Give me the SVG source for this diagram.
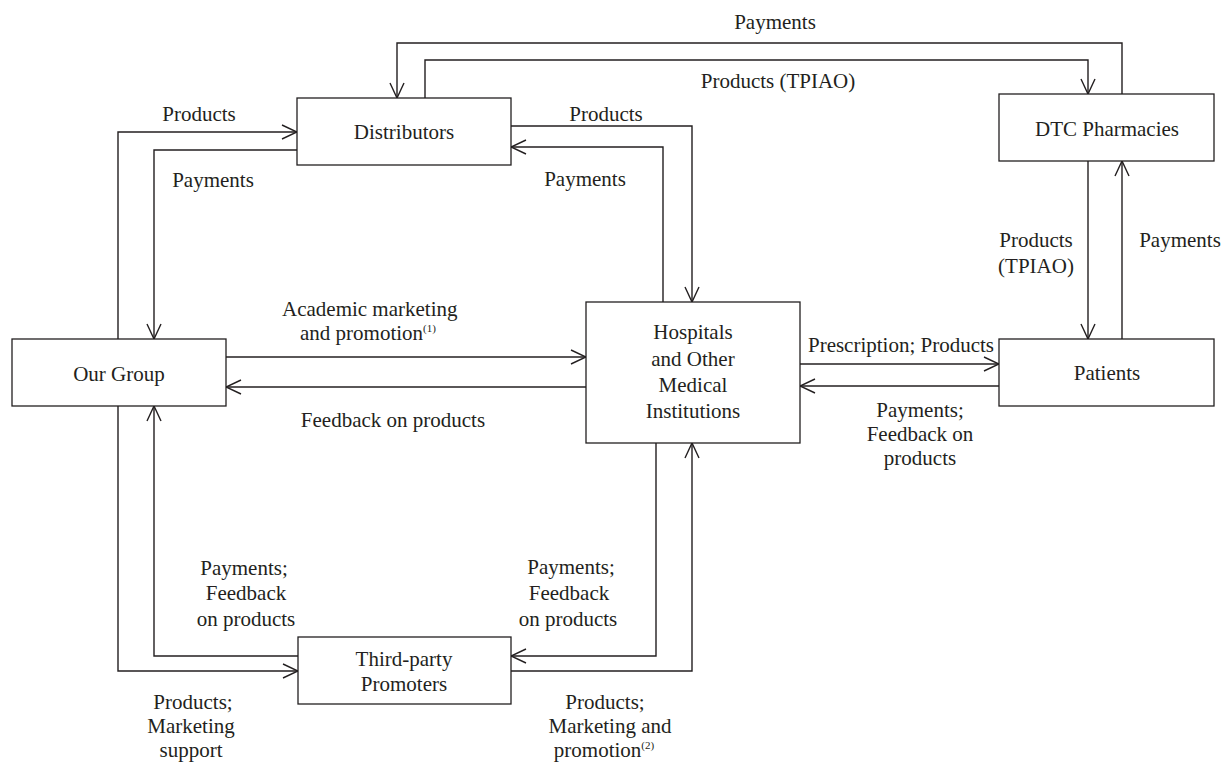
<svg xmlns="http://www.w3.org/2000/svg" width="1223" height="765" viewBox="0 0 1223 765">
  <defs>
    <marker id="arrow" markerUnits="userSpaceOnUse" viewBox="0 0 17 16" refX="16" refY="8" markerWidth="17" markerHeight="16" orient="auto">
      <path d="M1,1 L16,8 L1,15" fill="none" stroke="#231f20" stroke-width="1.4"/>
    </marker>
    <style>
      .box { fill: #ffffff; stroke: #231f20; stroke-width: 1.3; }
      .lbl { font-family: "Liberation Serif", "Times New Roman", serif; font-size: 21px; fill: #231f20; text-anchor: middle; }
      .sup { font-size: 11px; }
      .flow { fill: none; stroke: #231f20; stroke-width: 1.4; marker-end: url(#arrow); }
    </style>
  </defs>
  <rect width="1223" height="765" fill="#ffffff"/>

  <!-- connectors -->
  <g id="connectors">
    <!-- Distributors <-> DTC Pharmacies -->
    <path class="flow" d="M1122,94 V43 H397 V98"/>
    <path class="flow" d="M425,98 V60 H1088 V94"/>
    <!-- DTC Pharmacies <-> Patients -->
    <path class="flow" d="M1088,161 V339"/>
    <path class="flow" d="M1122,339 V161"/>
    <!-- Our Group <-> Distributors -->
    <path class="flow" d="M118,339 V132 H297"/>
    <path class="flow" d="M297,150 H154 V339"/>
    <!-- Distributors <-> Hospitals -->
    <path class="flow" d="M511,126 H692 V302"/>
    <path class="flow" d="M663,302 V147 H511"/>
    <!-- Our Group <-> Hospitals -->
    <path class="flow" d="M226,357 H586"/>
    <path class="flow" d="M586,387 H226"/>
    <!-- Hospitals <-> Patients -->
    <path class="flow" d="M800,364 H999"/>
    <path class="flow" d="M999,386 H800"/>
    <!-- Our Group <-> Third-party Promoters -->
    <path class="flow" d="M118,406 V671 H298"/>
    <path class="flow" d="M298,656 H154 V406"/>
    <!-- Hospitals <-> Third-party Promoters -->
    <path class="flow" d="M656,443 V656 H511"/>
    <path class="flow" d="M511,671 H692 V443"/>
  </g>

  <!-- connector labels -->
  <g id="labels" class="lbl">
    <text x="775" y="29">Payments</text>
    <text x="778" y="88">Products (TPIAO)</text>
    <text x="199" y="121">Products</text>
    <text x="213" y="187">Payments</text>
    <text x="606" y="121">Products</text>
    <text x="585" y="186">Payments</text>
    <text x="1036" y="247">Products</text>
    <text x="1036" y="273">(TPIAO)</text>
    <text x="1180" y="247">Payments</text>
    <text x="282" y="316" style="text-anchor:start">Academic marketing</text>
    <text x="300" y="340" style="text-anchor:start">and promotion<tspan class="sup" dy="-8">(1)</tspan></text>
    <text x="393" y="427">Feedback on products</text>
    <text x="901" y="352">Prescription; Products</text>
    <text x="920" y="417">Payments;</text>
    <text x="920" y="441">Feedback on</text>
    <text x="920" y="465">products</text>
    <text x="244" y="575">Payments;</text>
    <text x="246" y="600">Feedback</text>
    <text x="246" y="626">on products</text>
    <text x="571" y="574">Payments;</text>
    <text x="569" y="600">Feedback</text>
    <text x="568" y="626">on products</text>
    <text x="193" y="709">Products;</text>
    <text x="191" y="733">Marketing</text>
    <text x="191" y="757">support</text>
    <text x="605" y="709">Products;</text>
    <text x="610" y="733">Marketing and</text>
    <text x="604" y="757">promotion<tspan class="sup" dy="-8">(2)</tspan></text>
  </g>

  <!-- nodes -->
  <g id="distributors">
    <rect class="box" x="297" y="98" width="214" height="67"/>
    <text class="lbl" x="404" y="139">Distributors</text>
  </g>
  <g id="dtc-pharmacies">
    <rect class="box" x="999" y="94" width="215" height="67"/>
    <text class="lbl" x="1107" y="136">DTC Pharmacies</text>
  </g>
  <g id="our-group">
    <rect class="box" x="12" y="339" width="214" height="67"/>
    <text class="lbl" x="119" y="381">Our Group</text>
  </g>
  <g id="hospitals">
    <rect class="box" x="586" y="302" width="214" height="141"/>
    <text class="lbl" x="693" y="339">Hospitals</text>
    <text class="lbl" x="693" y="366">and Other</text>
    <text class="lbl" x="693" y="392">Medical</text>
    <text class="lbl" x="693" y="418">Institutions</text>
  </g>
  <g id="patients">
    <rect class="box" x="999" y="339" width="215" height="67"/>
    <text class="lbl" x="1107" y="380">Patients</text>
  </g>
  <g id="third-party-promoters">
    <rect class="box" x="298" y="637" width="213" height="67"/>
    <text class="lbl" x="404" y="666">Third-party</text>
    <text class="lbl" x="404" y="691">Promoters</text>
  </g>
</svg>
